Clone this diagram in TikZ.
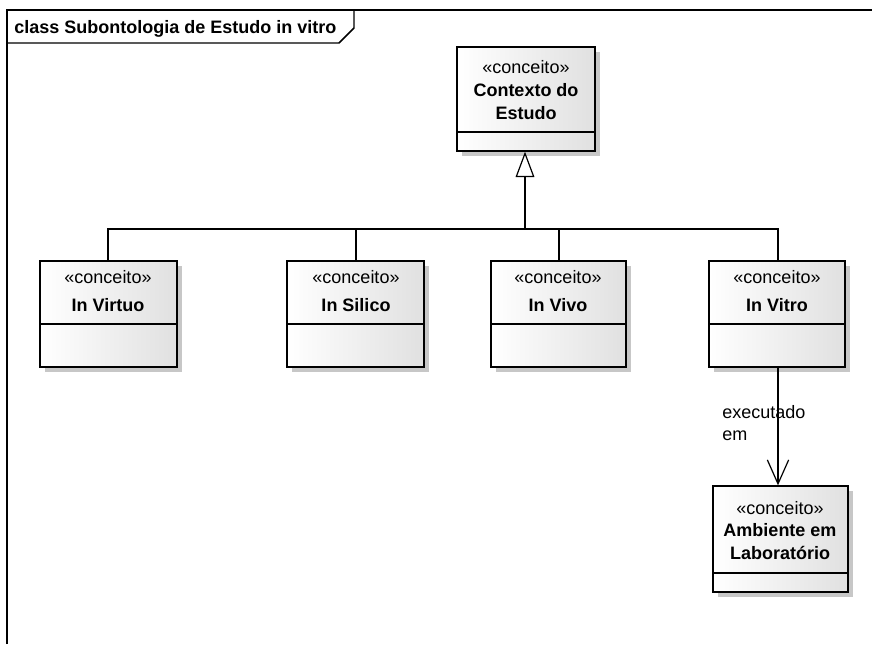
\documentclass[tikz,border=0pt]{standalone}
\usepackage{fontspec}
\setmainfont{Liberation Sans}
\usetikzlibrary{arrows.meta,shadows,fit}

\begin{document}
\begin{tikzpicture}[x=0.75pt,y=-0.75pt,
  every node/.style={font=\fontsize{13.5}{16}\selectfont},
  boldtxt/.style={font=\fontsize{13.5}{16}\selectfont\bfseries},
  frameline/.style={line width=1.1pt,black},
  classbox/.style={draw=black,line width=1pt,inner sep=0pt,
    left color=white,right color=black!12,shading angle=90,
    general shadow={fill=black!22,shadow xshift=3.6pt,shadow yshift=-3.6pt}},
  divider/.style={line width=0.9pt},
  txt/.style={anchor=base,inner sep=0pt},
  link/.style={line width=0.9pt},
  genarrow/.style={line width=1.3pt,-{Triangle[open,fill=white,length=19pt,width=14pt,line width=0.9pt]}},
  assocarrow/.style={line width=0.9pt,-{Straight Barb[length=18pt,width=16pt,line width=0.9pt]}}
]
\useasboundingbox (0,0) rectangle (872,644);

% diagram frame with title tab
\draw[frameline] (7,644) -- (7,10) -- (872,10);
\draw[frameline] (7,43) -- (339,43) -- (354,28) -- (354,10);
\node[txt,anchor=base west,boldtxt] (title) at (14,33) {class Subontologia de Estudo in vitro};

% general concept
\node[classbox,fit={(457,47) (595,151)}] (ctx) {};
\draw[divider] (457,132) -- (595,132);
\node[txt] (ctxs) at (526,73) {«conceito»};
\node[txt,boldtxt] (ctxa) at (526,96) {Contexto do};
\node[txt,boldtxt] (ctxb) at (526,119) {Estudo};

% specialised concepts
\node[classbox,fit={(40,261) (177,367)}] (virtuo) {};
\draw[divider] (40,324) -- (177,324);
\node[txt] at (108,283) {«conceito»};
\node[txt,boldtxt] at (108,311) {In Virtuo};

\node[classbox,fit={(287,261) (424,367)}] (silico) {};
\draw[divider] (287,324) -- (424,324);
\node[txt] at (356,283) {«conceito»};
\node[txt,boldtxt] at (356,311) {In Silico};

\node[classbox,fit={(491,261) (626,367)}] (vivo) {};
\draw[divider] (491,324) -- (626,324);
\node[txt] at (558,283) {«conceito»};
\node[txt,boldtxt] at (558,311) {In Vivo};

\node[classbox,fit={(709,261) (845,367)}] (vitro) {};
\draw[divider] (709,324) -- (845,324);
\node[txt] at (777,283) {«conceito»};
\node[txt,boldtxt] at (777,311) {In Vitro};

% laboratory environment
\node[classbox,fit={(713,486) (848,592)}] (lab) {};
\draw[divider] (713,573) -- (848,573);
\node[txt] at (780,514) {«conceito»};
\node[txt,boldtxt] at (780,536) {Ambiente em};
\node[txt,boldtxt] at (780,559) {Laboratório};

% generalisation tree
\coordinate (bus) at (525,229);
\draw[link] (virtuo.north -| 108,0) -- (108,229) -- (778,229) -- (vitro.north -| 778,0);
\draw[link] (356,229) -- (silico.north -| 356,0);
\draw[link] (559,229) -- (vivo.north -| 559,0);
\draw[genarrow] (bus) -- (ctx.south -| bus);

% association
\draw[assocarrow] (vitro.south -| 778,0) -- (lab.north -| 778,0);
\node[txt,anchor=base west] (lbla) at (722,418) {executado};
\node[txt,anchor=base west] (lblb) at (722,440) {em};
\end{tikzpicture}
\end{document}
